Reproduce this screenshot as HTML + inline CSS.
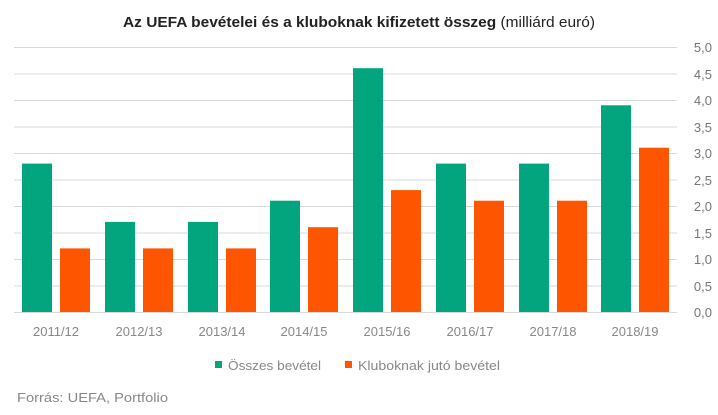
<!DOCTYPE html>
<html><head><meta charset="utf-8"><style>body{margin:0;background:#fff}svg{display:block}text{font-family:"Liberation Sans",sans-serif}</style></head>
<body>
<svg width="718" height="415" xmlns="http://www.w3.org/2000/svg">
<text x="123" y="27" font-size="15" fill="#222" textLength="472" lengthAdjust="spacingAndGlyphs"><tspan font-weight="bold">Az UEFA bevételei  és a kluboknak kifizetett összeg</tspan> (milliárd euró)</text>
<g stroke="#d9d9d9" stroke-width="1">
<line x1="14" x2="677" y1="47.5" y2="47.5"/><line x1="14" x2="677" y1="74" y2="74"/><line x1="14" x2="677" y1="100.5" y2="100.5"/><line x1="14" x2="677" y1="127" y2="127"/><line x1="14" x2="677" y1="153.5" y2="153.5"/><line x1="14" x2="677" y1="180" y2="180"/><line x1="14" x2="677" y1="206.5" y2="206.5"/><line x1="14" x2="677" y1="233" y2="233"/><line x1="14" x2="677" y1="259.5" y2="259.5"/><line x1="14" x2="677" y1="286" y2="286"/><line x1="14" x2="677" y1="312.5" y2="312.5"/>
</g>
<g fill="#777" font-size="13" text-anchor="end">
<text x="712" y="52">5,0</text><text x="712" y="79">4,5</text><text x="712" y="105">4,0</text><text x="712" y="132">3,5</text><text x="712" y="158">3,0</text><text x="712" y="185">2,5</text><text x="712" y="211">2,0</text><text x="712" y="238">1,5</text><text x="712" y="264">1,0</text><text x="712" y="291">0,5</text><text x="712" y="317">0,0</text>
</g>
<g fill="#03a57f">
<rect x="22" y="163.6" width="30" height="148.4"/>
<rect x="105" y="221.9" width="30" height="90.1"/>
<rect x="188" y="221.9" width="30" height="90.1"/>
<rect x="270" y="200.7" width="30" height="111.3"/>
<rect x="353" y="68.2" width="30" height="243.8"/>
<rect x="436" y="163.6" width="30" height="148.4"/>
<rect x="519" y="163.6" width="30" height="148.4"/>
<rect x="601" y="105.3" width="30" height="206.7"/>
</g>
<g fill="#fe5500">
<rect x="60" y="248.4" width="30" height="63.6"/>
<rect x="143" y="248.4" width="30" height="63.6"/>
<rect x="226" y="248.4" width="30" height="63.6"/>
<rect x="308" y="227.2" width="30" height="84.8"/>
<rect x="391" y="190.1" width="30" height="121.9"/>
<rect x="474" y="200.7" width="30" height="111.3"/>
<rect x="557" y="200.7" width="30" height="111.3"/>
<rect x="639" y="147.7" width="30" height="164.3"/>
</g>
<g fill="#888" font-size="13" text-anchor="middle">
<text x="56" y="336">2011/12</text><text x="139" y="336">2012/13</text><text x="222" y="336">2013/14</text><text x="304" y="336">2014/15</text><text x="387" y="336">2015/16</text><text x="470" y="336">2016/17</text><text x="553" y="336">2017/18</text><text x="635" y="336">2018/19</text>
</g>
<rect x="215" y="361" width="7" height="7" fill="#03a57f"/>
<text x="228" y="370" font-size="13" fill="#888" textLength="93" lengthAdjust="spacingAndGlyphs">Összes bevétel</text>
<rect x="345" y="361" width="7" height="7" fill="#fe5500"/>
<text x="358" y="370" font-size="13" fill="#888" textLength="142" lengthAdjust="spacingAndGlyphs">Kluboknak jutó bevétel</text>
<text x="17" y="402" font-size="13" fill="#888" textLength="151" lengthAdjust="spacingAndGlyphs">Forrás: UEFA, Portfolio</text>
</svg>
</body></html>
